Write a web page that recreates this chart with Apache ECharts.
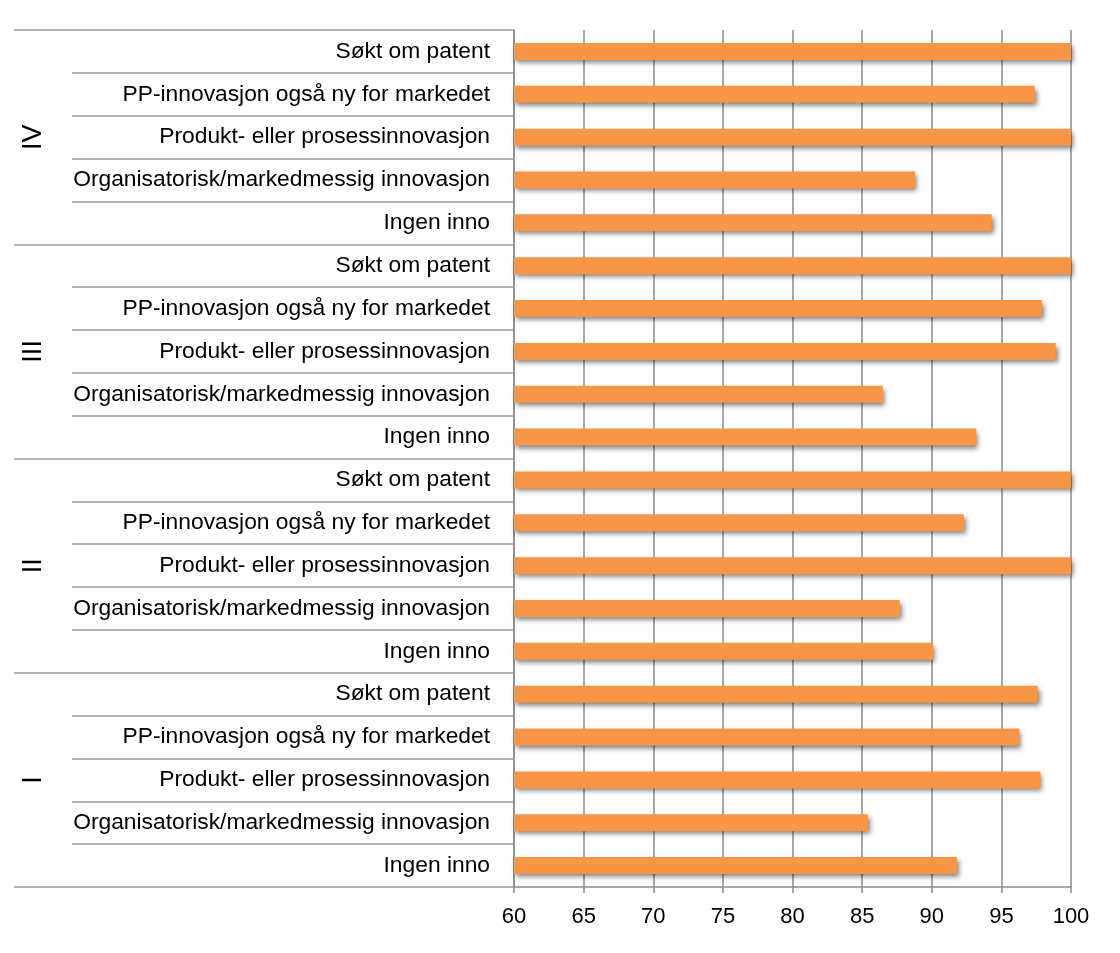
<!DOCTYPE html>
<html>
<head>
<meta charset="utf-8">
<script src="https://cdn.jsdelivr.net/npm/echarts@6/dist/echarts.min.js"></script>
<style>
html,body{margin:0;padding:0;background:#fff;}
#chart{width:1120px;height:953px;}
</style>
</head>
<body>
<div id="chart"></div>
<script>
// Groups (top to bottom) and the items inside each group (top to bottom)
const groups = ['IV', 'III', 'II', 'I'];
const items = [
  'Søkt om patent',
  'PP-innovasjon også ny for markedet',
  'Produkt- eller prosessinnovasjon',
  'Organisatorisk/markedmessig innovasjon',
  'Ingen inno'
];
// Values per group, in the same order as items
const valuesIV  = [100, 97.4, 100, 88.8, 94.3];
const valuesIII = [100, 97.9, 98.9, 86.5, 93.2];
const valuesII  = [100, 92.3, 100, 87.7, 90.1];
const valuesI   = [97.6, 96.3, 97.8, 85.4, 91.8];
// Value axis
const xMin = 60, xMax = 100, xInterval = 5;

const groupValues = {IV: valuesIV, III: valuesIII, II: valuesII, I: valuesI};
const categories = [];
const data = [];
groups.forEach(g => {
  items.forEach((it, i) => {
    categories.push(g + '|' + it);
    data.push(groupValues[g][i]);
  });
});

const FONT = "'Liberation Sans', Arial, sans-serif";
const lineGray = '#8c8c8c';
const sepGray = '#9a9a9a';

const chart = echarts.init(document.getElementById('chart'), null, {renderer: 'canvas'});
chart.setOption({
  animation: false,
  backgroundColor: '#ffffff',
  grid: {left: 514, right: 49, top: 30, bottom: 66, containLabel: false},
  xAxis: {
    type: 'value',
    min: xMin, max: xMax, interval: xInterval,
    axisLine: {show: true, lineStyle: {color: lineGray, width: 1.5}},
    axisTick: {show: true, length: 6, lineStyle: {color: lineGray, width: 1.5}},
    axisLabel: {color: '#000', fontFamily: FONT, fontSize: 22, margin: 19},
    splitLine: {show: true, lineStyle: {color: lineGray, width: 1.5}}
  },
  yAxis: [
    {
      type: 'category',
      inverse: true,
      data: categories,
      position: 'left',
      axisLine: {show: true, lineStyle: {color: lineGray, width: 1.5}},
      axisTick: {show: true, interval: 0, length: 442, lineStyle: {color: sepGray, width: 1.5}},
      axisLabel: {
        interval: 0, color: '#000', fontFamily: FONT, fontSize: 22.8, margin: 24,
        formatter: v => v.split('|')[1]
      },
      splitLine: {show: false}
    },
    {
      type: 'category',
      inverse: true,
      data: groups,
      position: 'left',
      axisLine: {show: false},
      axisTick: {show: true, interval: 0, length: 500, lineStyle: {color: sepGray, width: 1.5}},
      axisLabel: {interval: 0, rotate: 90, color: '#000', fontFamily: FONT, fontSize: 27, margin: 467},
      splitLine: {show: false}
    }
  ],
  series: [{
    type: 'bar',
    yAxisIndex: 0,
    data: data,
    barWidth: 17,
    itemStyle: {
      color: '#F79646',
      shadowColor: 'rgba(0,0,0,0.5)',
      shadowBlur: 5,
      shadowOffsetX: 2,
      shadowOffsetY: 3
    }
  }]
});
</script>
</body>
</html>
